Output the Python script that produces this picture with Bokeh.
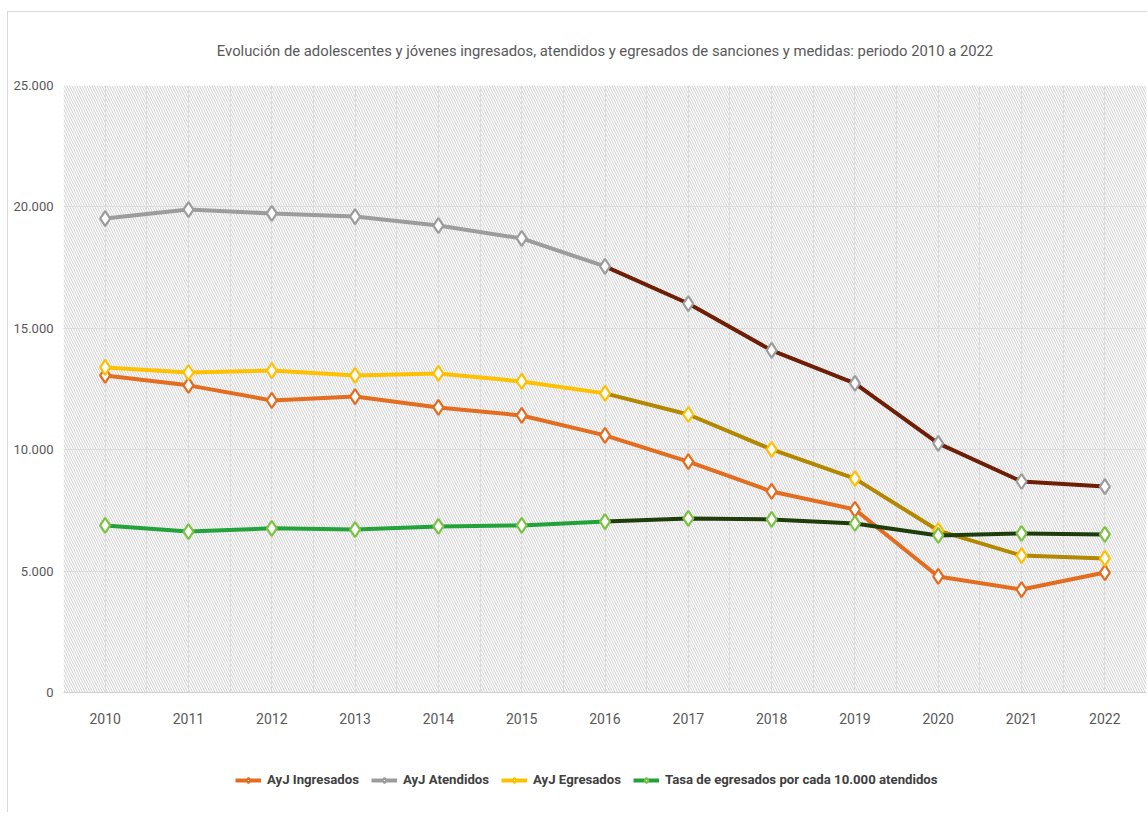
from bokeh.plotting import figure
from bokeh.layouts import column
from bokeh.models import FixedTicker, BoxAnnotation, Legend, LegendItem, Range1d
from bokeh.embed import file_html
from bokeh.resources import INLINE

years = [2010, 2011, 2012, 2013, 2014, 2015, 2016, 2017, 2018, 2019, 2020, 2021, 2022]
ingresados = [13060, 12650, 12030, 12190, 11740, 11410, 10590, 9510, 8280, 7540, 4780, 4240, 4940]
atendidos = [19520, 19890, 19730, 19600, 19230, 18700, 17550, 16020, 14090, 12730, 10260, 8690, 8480]
egresados = [13390, 13180, 13260, 13060, 13140, 12810, 12320, 11450, 10010, 8810, 6670, 5640, 5520]
tasa = [6880, 6630, 6760, 6710, 6840, 6880, 7040, 7170, 7130, 6960, 6470, 6550, 6510]
y_ticks = [0, 5000, 10000, 15000, 20000, 25000]
y_tick_labels = ["0", "5.000", "10.000", "15.000", "20.000", "25.000"]
series_names = ["AyJ Ingresados", "AyJ Atendidos", "AyJ Egresados",
                "Tasa de egresados por cada 10.000 atendidos"]
title_text = ("Evolución de adolescentes y jóvenes ingresados, atendidos y egresados "
              "de sanciones y medidas: periodo 2010 a 2022")

FONT = "Roboto"
W = 1139

p = figure(width=W, height=720, x_range=(2009.5, 2022.5), y_range=(0, 25000),
           output_backend="svg", toolbar_location=None,
           min_border_left=55, min_border_right=1, min_border_top=73, min_border_bottom=40)
p.outline_line_color = None
p.background_fill_color = "white"

p.title.text = title_text
p.title.align = "center"
p.title.text_font = FONT
p.title.text_font_size = "14.8px"
p.title.text_font_style = "normal"
p.title.text_color = "#595959"
p.title.standoff = 52

hatch = BoxAnnotation(fill_alpha=0, line_color=None, hatch_pattern="\\",
                      hatch_color="#CFCFCF", hatch_scale=5, hatch_weight=1, level="image")
p.add_layout(hatch)

half = [y - 0.5 for y in years] + [years[-1] + 0.5]
p.xaxis.ticker = FixedTicker(ticks=years, minor_ticks=half)
p.yaxis.ticker = FixedTicker(ticks=y_ticks)
p.yaxis.major_label_overrides = {t: l for t, l in zip(y_ticks, y_tick_labels)}

p.xgrid.grid_line_color = "#DCDCDC"
p.xgrid.minor_grid_line_color = "#DCDCDC"
p.ygrid.grid_line_color = "#DCDCDC"

for ax in (p.xaxis[0], p.yaxis[0]):
    ax.major_tick_line_color = None
    ax.minor_tick_line_color = None
    ax.major_tick_out = 0
    ax.major_tick_in = 0
    ax.minor_tick_out = 0
    ax.minor_tick_in = 0
    ax.major_label_text_font = FONT
    ax.major_label_text_color = "#595959"
p.yaxis.major_label_text_font_size = "13px"
p.xaxis.major_label_text_font_size = "14px"
p.xaxis.axis_line_color = "#D0D0D0"
p.yaxis.axis_line_color = None
p.xaxis.major_label_standoff = 20
p.yaxis.major_label_standoff = 10

base_cols = ["#E46C1E", "#9C9C9C", "#FFC000", "#22A33A"]
dark_cols = [None, "#6E1E05", "#B38700", "#1F3D0B"]
marker_cols = ["#E46C1E", "#9C9C9C", "#FFC000", "#7CC242"]
data = [ingresados, atendidos, egresados, tasa]
split = years.index(2016)

for i, vals in enumerate(data):
    if dark_cols[i] is None:
        p.line(years, vals, line_color=base_cols[i], line_width=4)
    else:
        p.line(years[:split + 1], vals[:split + 1], line_color=base_cols[i], line_width=4)
        p.line(years[split:], vals[split:], line_color=dark_cols[i], line_width=4)
    p.scatter(years, vals, marker="diamond", size=15, fill_color="white",
              line_color=marker_cols[i], line_width=2.2)

# legend strip below the chart (its renderers lie outside its visible ranges)
q = figure(width=W, height=80, x_range=Range1d(0, 1), y_range=Range1d(0, 1),
           output_backend="svg", toolbar_location=None,
           x_axis_location=None, y_axis_location=None,
           min_border_left=0, min_border_right=0, min_border_top=0, min_border_bottom=0)
q.grid.visible = False
q.outline_line_color = None
items = []
for i, vals in enumerate(data):
    lr = q.line(years, vals, line_color=base_cols[i], line_width=4)
    mr = q.scatter(years, vals, marker="diamond", size=11, fill_color="white",
                   line_color=marker_cols[i], line_width=2)
    items.append(LegendItem(label=series_names[i], renderers=[lr, mr]))

legend = Legend(items=items, orientation="horizontal", location=(172, 25),
                glyph_width=26, glyph_height=14, label_text_font=FONT,
                label_text_font_size="13.2px", label_text_font_style="bold",
                label_text_color="#404040", spacing=12, label_standoff=6,
                border_line_color=None, background_fill_alpha=0, margin=0, padding=4)
q.add_layout(legend)

layout = column(p, q, spacing=0)
layout.styles = {"margin-left": "7px", "margin-top": "11px",
                 "border-left": "1px solid #D9D9D9", "border-top": "1px solid #D9D9D9"}

open("out.html", "w").write(file_html(layout, INLINE))
